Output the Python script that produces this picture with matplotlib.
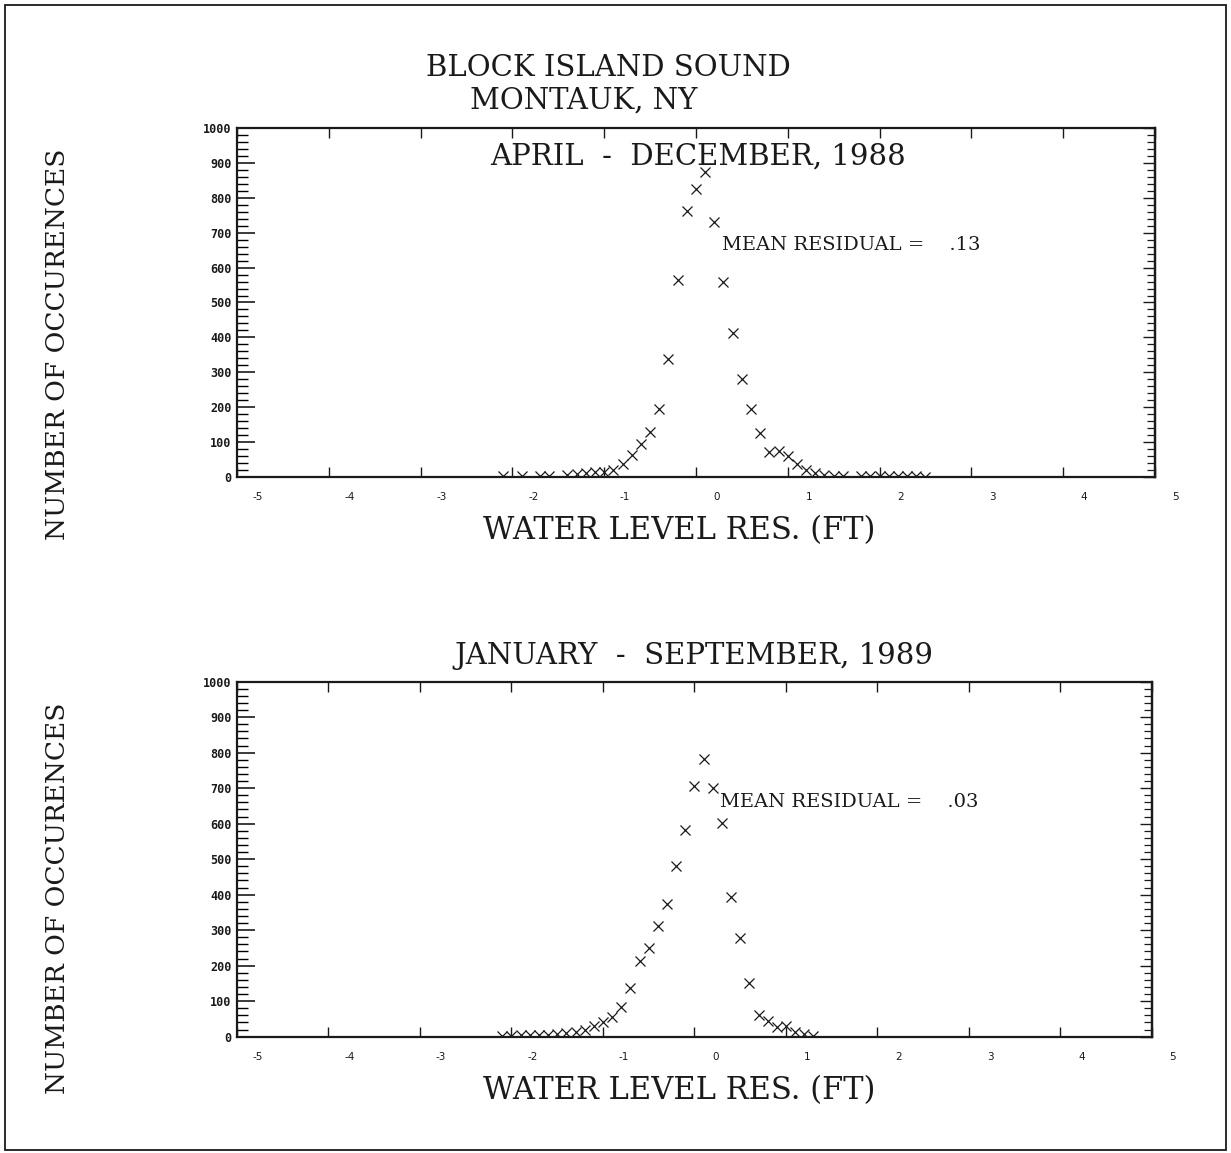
import matplotlib
matplotlib.use("Agg")
import matplotlib.pyplot as plt
from matplotlib.patches import Rectangle
from matplotlib.transforms import ScaledTranslation
from matplotlib.ticker import MultipleLocator

# histogram of water level residuals, bins of 0.1 ft
res88 = [-2.1, -1.9, -1.7, -1.6, -1.4, -1.3, -1.2, -1.1, -1.0, -0.9, -0.8, -0.7,
         -0.6, -0.5, -0.4, -0.3, -0.2, -0.1, 0.0, 0.1, 0.2, 0.3, 0.4, 0.5, 0.6,
         0.7, 0.8, 0.9, 1.0, 1.1, 1.2, 1.3, 1.4, 1.5, 1.6, 1.8, 1.9, 2.0, 2.1,
         2.2, 2.3, 2.4, 2.5]
cnt88 = [2, 4, 2, 2, 6, 10, 12, 13, 15, 21, 38, 62,
         94, 128, 194, 337, 565, 763, 826, 875, 732, 560, 413, 280, 194,
         126, 72, 75, 59, 38, 21, 12, 6, 4, 3, 2, 2, 3, 2,
         2, 3, 2, 1]

res89 = [-2.1, -2.0, -1.9, -1.8, -1.7, -1.6, -1.5, -1.4, -1.3, -1.2, -1.1, -1.0,
         -0.9, -0.8, -0.7, -0.6, -0.5, -0.4, -0.3, -0.2, -0.1, 0.0, 0.1, 0.2,
         0.3, 0.4, 0.5, 0.6, 0.7, 0.8, 0.9, 1.0, 1.1, 1.2, 1.3]
cnt89 = [3, 3, 4, 4, 4, 6, 7, 10, 14, 18, 30, 42,
         56, 83, 136, 213, 249, 312, 374, 481, 582, 706, 781, 700,
         603, 394, 277, 150, 61, 45, 28, 30, 14, 8, 3]

titulos = ["APRIL  -  DECEMBER, 1988", "JANUARY  -  SEPTEMBER, 1989"]
medias = [".13", ".03"]
xticks = [-5, -4, -3, -2, -1, 0, 1, 2, 3, 4, 5]
yticks = [0, 100, 200, 300, 400, 500, 600, 700, 800, 900, 1000]

serif = "DejaVu Serif"
tinta = "#1a1a1a"

fig = plt.figure(figsize=(12.31, 11.53), dpi=100)

# marco exterior
fig.patches.append(Rectangle((0.004, 0.003), 0.992, 0.993, transform=fig.transFigure,
                             fill=False, lw=1.3, ec=tinta))

fig.text(0.494, 0.941, "BLOCK ISLAND SOUND", family=serif, fontsize=21,
         ha="center", va="center", color=tinta)
fig.text(0.474, 0.913, "MONTAUK, NY", family=serif, fontsize=21,
         ha="center", va="center", color=tinta)

cajas = [[0.1925, 0.5863, 0.7457, 0.3027], [0.1925, 0.1009, 0.7433, 0.3079]]
datos = [(res88, cnt88), (res89, cnt89)]

ejes = []
for i in range(2):
    ax = fig.add_axes(cajas[i])
    x, y = datos[i]
    ax.plot(x, y, ls="none", marker="x", ms=6.5, mew=0.9, color=tinta, clip_on=True)
    ax.set_xlim(-5, 5)
    ax.set_ylim(0, 1000)
    for s in ax.spines.values():
        s.set_linewidth(1.6)
        s.set_color(tinta)

    ax.set_xticks(xticks)
    ax.set_xticklabels([str(t) for t in xticks])
    ax.set_yticks(yticks)
    ax.set_yticklabels([str(t) for t in yticks])
    ax.yaxis.set_minor_locator(MultipleLocator(20))
    ax.tick_params(axis="x", which="major", direction="in", top=True, bottom=True,
                   length=7, width=1.0, labelsize=7.5, pad=11, colors=tinta)
    ax.tick_params(axis="y", which="major", direction="in", left=True, right=False,
                   length=13, width=1.2, labelsize=8.5, pad=4, colors=tinta)
    ax.tick_params(axis="y", which="minor", direction="in", left=True, right=False,
                   length=8, width=1.0)
    for lab in ax.get_yticklabels():
        lab.set_family("DejaVu Sans Mono")
        lab.set_weight("bold")
    # las etiquetas del eje x van corridas a la derecha, como en el original
    corrimiento = ScaledTranslation(0.21, 0, fig.dpi_scale_trans)
    for lab in ax.xaxis.get_majorticklabels():
        lab.set_transform(lab.get_transform() + corrimiento)

    der = ax.secondary_yaxis("right")
    der.set_yticks(yticks)
    der.set_yticklabels([])
    der.yaxis.set_minor_locator(MultipleLocator(20))
    der.tick_params(which="major", direction="in", length=9, width=1.0, colors=tinta)
    der.tick_params(which="minor", direction="in", length=6, width=0.9, colors=tinta)
    der.spines["right"].set_linewidth(1.6)

    ax.text(0.528, 0.665 if i == 0 else 0.661, "MEAN RESIDUAL =    " + medias[i],
            transform=ax.transAxes, family=serif, fontsize=14, va="center",
            ha="left", color=tinta)
    ejes.append(ax)

ejes[0].text(0.502, 0.917, titulos[0], transform=ejes[0].transAxes, family=serif,
             fontsize=21, ha="center", va="center", color=tinta)
fig.text(0.564, 0.431, titulos[1], family=serif, fontsize=21,
         ha="center", va="center", color=tinta)

for yy in [0.540, 0.0546]:
    fig.text(0.552, yy, "WATER LEVEL RES. (FT)", family=serif, fontsize=22,
             ha="center", va="center", color=tinta)
for yy in [0.701, 0.221]:
    fig.text(0.047, yy, "NUMBER OF OCCURENCES", family=serif, fontsize=19,
             rotation=90, ha="center", va="center", color=tinta)

fig.savefig("out.png", dpi=100)
